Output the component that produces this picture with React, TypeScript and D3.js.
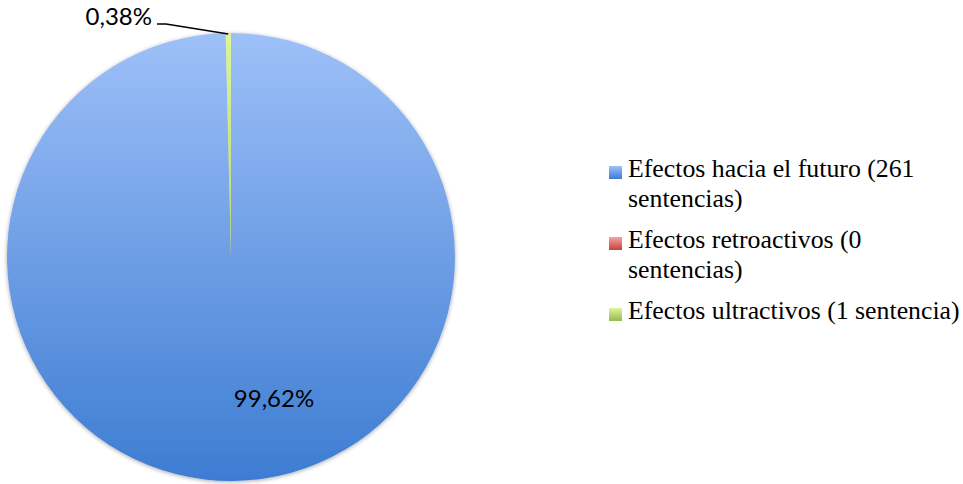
import React from "react";
import * as d3 from "d3";

const categories = [
  "Efectos hacia el futuro (261 sentencias)",
  "Efectos retroactivos (0 sentencias)",
  "Efectos ultractivos (1 sentencia)",
];
const legendLines = [
  ["Efectos hacia el futuro (261", "sentencias)"],
  ["Efectos retroactivos (0", "sentencias)"],
  ["Efectos ultractivos (1 sentencia)"],
];
const values = [261, 0, 1];
const percentLabels = ["99,62%", "", "0,38%"];
const gradTop = ["#9ec0f8", "#f4a4a2", "#dcf59a"];
const gradBottom = ["#3d7cd2", "#c9403c", "#94b94e"];

const serif = "Liberation Serif, Tinos, Times New Roman, DejaVu Serif, serif";

export default function App() {
  const W = 963, H = 484;
  const cx = 231, cy = 257, r = 224;
  const pie = d3.pie<number>().sort(null).value((d) => d)(values);
  const arc = d3.arc<d3.PieArcDatum<number>>().innerRadius(0).outerRadius(r);
  const g = pie[2];
  const mid = (g.startAngle + g.endAngle) / 2;
  const tipX = cx + Math.sin(mid) * r;
  const tipY = cy - Math.cos(mid) * r;

  return (
    <svg
      width={W}
      height={H}
      style={{ position: "absolute", left: 0, top: 0 }}
      viewBox={`0 0 ${W} ${H}`}
    >
      <defs>
        {categories.map((_, i) => (
          <linearGradient key={i} id={`g${i}`} gradientUnits="userSpaceOnUse" x1="0" y1={-r} x2="0" y2={r}>
            <stop offset="0" stopColor={gradTop[i]} />
            <stop offset="1" stopColor={gradBottom[i]} />
          </linearGradient>
        ))}
        {categories.map((_, i) => (
          <linearGradient key={"l" + i} id={`lg${i}`} x1="0" y1="0" x2="0" y2="1">
            <stop offset="0" stopColor={gradTop[i]} />
            <stop offset="1" stopColor={gradBottom[i]} />
          </linearGradient>
        ))}
        <filter id="sh" x="-10%" y="-10%" width="120%" height="120%">
          <feGaussianBlur in="SourceAlpha" stdDeviation="2" />
          <feOffset dx="0" dy="1" result="b" />
          <feComponentTransfer>
            <feFuncA type="linear" slope="0.35" />
          </feComponentTransfer>
          <feMerge>
            <feMergeNode />
            <feMergeNode in="SourceGraphic" />
          </feMerge>
        </filter>
      </defs>
      <rect width={W} height={H} fill="#ffffff" />
      <g transform={`translate(${cx},${cy})`} filter="url(#sh)">
        {pie.map((d, i) =>
          d.value > 0 ? <path key={i} d={arc(d) || ""} fill={`url(#g${i})`} /> : null
        )}
      </g>
      <text x={274} y={407} style={{ fontFamily: "Lato, Open Sans, sans-serif", fontSize: 24 }} textAnchor="middle" fill="#000">
        {percentLabels[0]}
      </text>
      <text x={152} y={25} style={{ fontFamily: "Lato, Open Sans, sans-serif", fontSize: 24 }} textAnchor="end" fill="#000">
        {percentLabels[2]}
      </text>
      <polyline
        points={`157,24 166,24 ${tipX},${tipY + 1}`}
        fill="none"
        stroke="#000"
        strokeWidth={1.5}
      />
      {legendLines.map((lines, i) => {
        const y0 = 177 + i * 71;
        return (
          <g key={i}>
            <rect x={609} y={y0 - 11} width={13} height={13} fill={`url(#lg${i})`} />
            {lines.map((t, j) => (
              <text key={j} x={628} y={y0 + j * 30} style={{ fontFamily: serif, fontSize: 25.8 }} fill="#000">
                {t}
              </text>
            ))}
          </g>
        );
      })}
    </svg>
  );
}
